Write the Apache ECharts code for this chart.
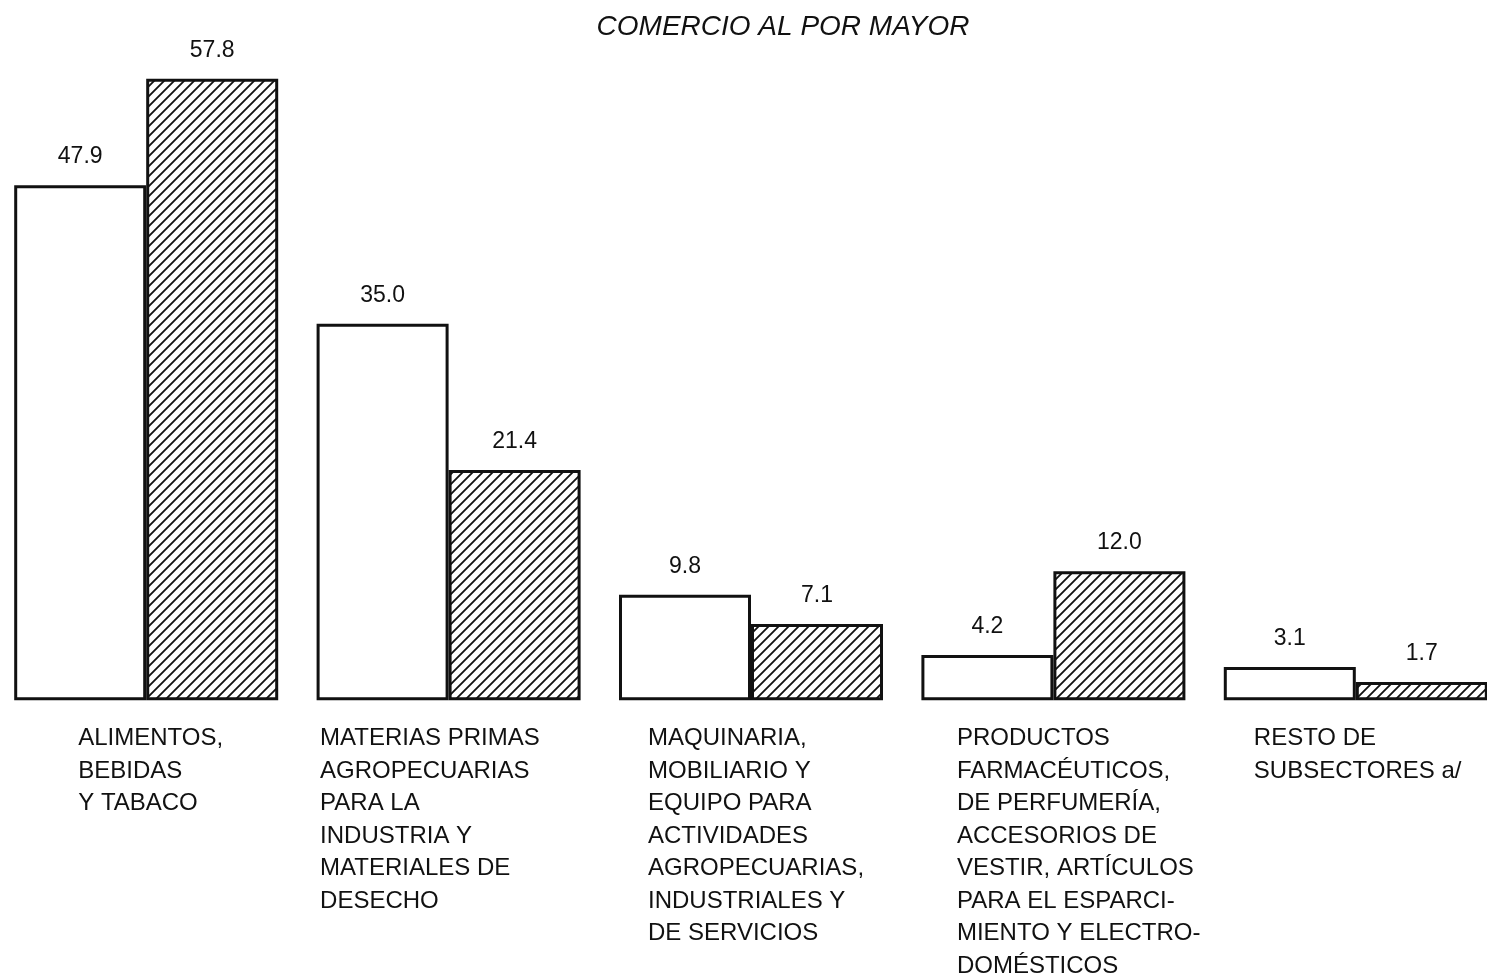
<!DOCTYPE html>
<html><head><meta charset="utf-8">
<script src="https://cdn.jsdelivr.net/npm/echarts@6/dist/echarts.min.js"></script>
<style>html,body{margin:0;padding:0;background:#fff;overflow:hidden;width:1487px;height:978px;position:relative}#c{position:absolute;left:-5px;top:0;width:1512px;height:978px}</style>
</head><body><div id="c"></div>
<script>
const title = 'COMERCIO AL POR MAYOR';
const categories = [
  'ALIMENTOS,\nBEBIDAS\nY TABACO',
  'MATERIAS PRIMAS\nAGROPECUARIAS\nPARA LA\nINDUSTRIA Y\nMATERIALES DE\nDESECHO',
  'MAQUINARIA,\nMOBILIARIO Y\nEQUIPO PARA\nACTIVIDADES\nAGROPECUARIAS,\nINDUSTRIALES Y\nDE SERVICIOS',
  'PRODUCTOS\nFARMACÉUTICOS,\nDE PERFUMERÍA,\nACCESORIOS DE\nVESTIR, ARTÍCULOS\nPARA EL ESPARCI-\nMIENTO Y ELECTRO-\nDOMÉSTICOS',
  'RESTO DE\nSUBSECTORES a/'
];
const seriesA = [47.9, 35.0, 9.8, 4.2, 3.1];
const seriesB = [57.8, 21.4, 7.1, 12.0, 1.7];
// per-category label block widths (block left-aligned, shifted per category)
const labelWidths = [136, 257, 206, 193, 204];

function hatch() {
  const s = 10, c = document.createElement('canvas');
  c.width = s; c.height = s;
  const g = c.getContext('2d');
  g.fillStyle = '#fff'; g.fillRect(0, 0, s, s);
  g.strokeStyle = '#111'; g.lineWidth = 1.8;
  g.beginPath();
  g.moveTo(-2, s + 2); g.lineTo(s + 2, -2);
  g.moveTo(-2, 2); g.lineTo(2, -2);
  g.moveTo(s - 2, s + 2); g.lineTo(s + 2, s - 2);
  g.stroke();
  return c;
}

const font = '"Liberation Sans", Arial, Helvetica, sans-serif';
const rich = {};
labelWidths.forEach((w, i) => {
  rich['c' + i] = { width: w, align: 'left', fontSize: 24, lineHeight: 32.5, color: '#111', fontFamily: font };
});

const chart = echarts.init(document.getElementById('c'), null, { renderer: 'canvas' });
chart.setOption({
  backgroundColor: '#fff',
  animation: false,
  title: {
    text: title, left: 783, textAlign: 'center', top: 8,
    textStyle: { fontStyle: 'italic', fontWeight: 'normal', fontSize: 28, color: '#111', fontFamily: font }
  },
  grid: { left: 0, right: 0, top: 55, bottom: 274, containLabel: false },
  xAxis: {
    type: 'category', data: categories,
    axisLine: { show: false }, axisTick: { show: false },
    axisLabel: {
      interval: 0, margin: 22, align: 'center', verticalAlign: 'top',
      formatter: (v, idx) => v.split('\n').map(l => '{c' + idx + '|' + l + '}').join('\n'),
      rich: rich
    }
  },
  yAxis: { type: 'value', min: 0, max: 60, show: false, splitLine: { show: false } },
  series: [
    {
      type: 'bar', data: seriesA, barWidth: 132, barGap: '0%',
      itemStyle: { color: '#fff', borderColor: '#111', borderWidth: 3 },
      label: { show: true, position: 'top', distance: 17, fontSize: 23, color: '#111', fontFamily: font,
        formatter: p => p.value.toFixed(1) }
    },
    {
      type: 'bar', data: seriesB, barWidth: 132, barGap: '0%',
      itemStyle: { color: { image: hatch(), repeat: 'repeat' }, borderColor: '#111', borderWidth: 3 },
      label: { show: true, position: 'top', distance: 17, fontSize: 23, color: '#111', fontFamily: font,
        formatter: p => p.value.toFixed(1) }
    }
  ]
});
</script></body></html>
